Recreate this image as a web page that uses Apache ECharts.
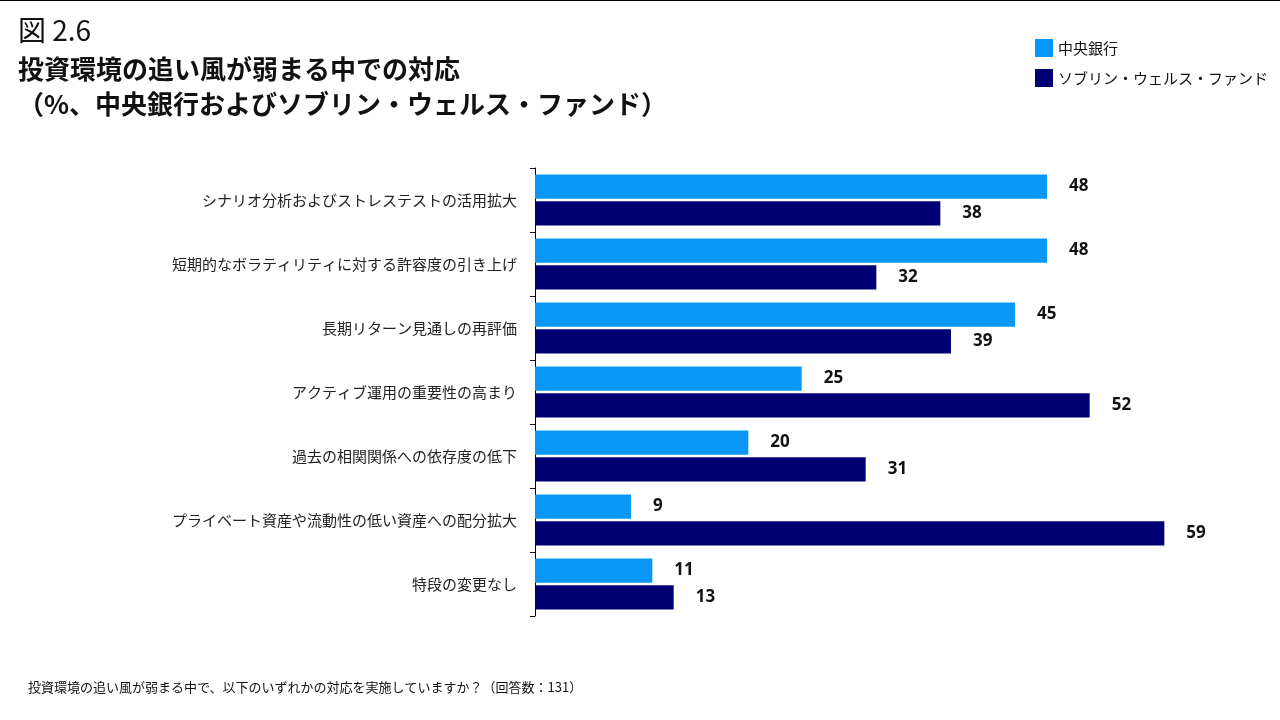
<!DOCTYPE html>
<html><head><meta charset="utf-8">
<script src="https://cdn.jsdelivr.net/npm/echarts@6/dist/echarts.min.js"></script>
<style>html,body{margin:0;padding:0;background:#fff}#c{width:1280px;height:720px}</style>
</head><body><div id="c"></div>
<script>
const chart = echarts.init(document.getElementById('c'))

const categories = [
  'シナリオ分析およびストレステストの活用拡大',
  '短期的なボラティリティに対する許容度の引き上げ',
  '長期リターン見通しの再評価',
  'アクティブ運用の重要性の高まり',
  '過去の相関関係への依存度の低下',
  'プライベート資産や流動性の低い資産への配分拡大',
  '特段の変更なし',
]
const centralBanks = [48, 48, 45, 25, 20, 9, 11]
const swfs = [38, 32, 39, 52, 31, 59, 13]

const font = '"Noto Sans CJK JP", sans-serif'

const labelStyle = {
  show: true,
  position: 'right',
  distance: 22,
  fontFamily: 'Noto Sans',
  fontWeight: 'bold',
  fontSize: 17,
  color: '#111',
}

chart.setOption({
  textStyle: { fontFamily: font },
  graphic: [
    { type: 'line', shape: { x1: 0, y1: 0.5, x2: 1280, y2: 0.5 }, style: { stroke: '#000', lineWidth: 1 } },
    { type: 'text', left: 18, top: 16, style: { text: '図 2.6', font: '28px ' + font, fill: '#111' } },
    { type: 'text', left: 18, top: 56, style: { text: '投資環境の追い風が弱まる中での対応', font: 'bold 26px ' + font, fill: '#111' } },
    { type: 'text', left: 18, top: 91, style: { text: '（%、中央銀行およびソブリン・ウェルス・ファンド）', font: 'bold 26px ' + font, fill: '#111' } },
    { type: 'text', left: 28, top: 681, style: { text: '投資環境の追い風が弱まる中で、以下のいずれかの対応を実施していますか？（回答数：131）', font: '13px ' + font, fill: '#111' } },
  ],
  legend: {
    orient: 'vertical',
    left: 1030,
    top: 34,
    itemWidth: 18,
    itemHeight: 18,
    itemGap: 12,
    icon: 'rect',
    textStyle: { fontSize: 15, color: '#111', fontFamily: font },
    data: ['中央銀行', 'ソブリン・ウェルス・ファンド'],
  },
  grid: { left: 535, top: 168, width: 640, height: 448 },
  xAxis: { type: 'value', min: 0, max: 60, show: false },
  yAxis: {
    type: 'category',
    inverse: true,
    data: categories,
    axisLine: { lineStyle: { color: '#000' } },
    axisTick: { show: true, length: 5, lineStyle: { color: '#000' } },
    axisLabel: { fontSize: 15, color: '#222', margin: 18, fontFamily: font },
  },
  series: [
    {
      name: '中央銀行', type: 'bar', data: centralBanks,
      itemStyle: { color: '#0897F7' },
      barCategoryGap: '20%', barGap: '10%',
      label: labelStyle,
    },
    {
      name: 'ソブリン・ウェルス・ファンド', type: 'bar', data: swfs,
      itemStyle: { color: '#000072' },
      label: labelStyle,
    },
  ],
})
</script></body></html>
